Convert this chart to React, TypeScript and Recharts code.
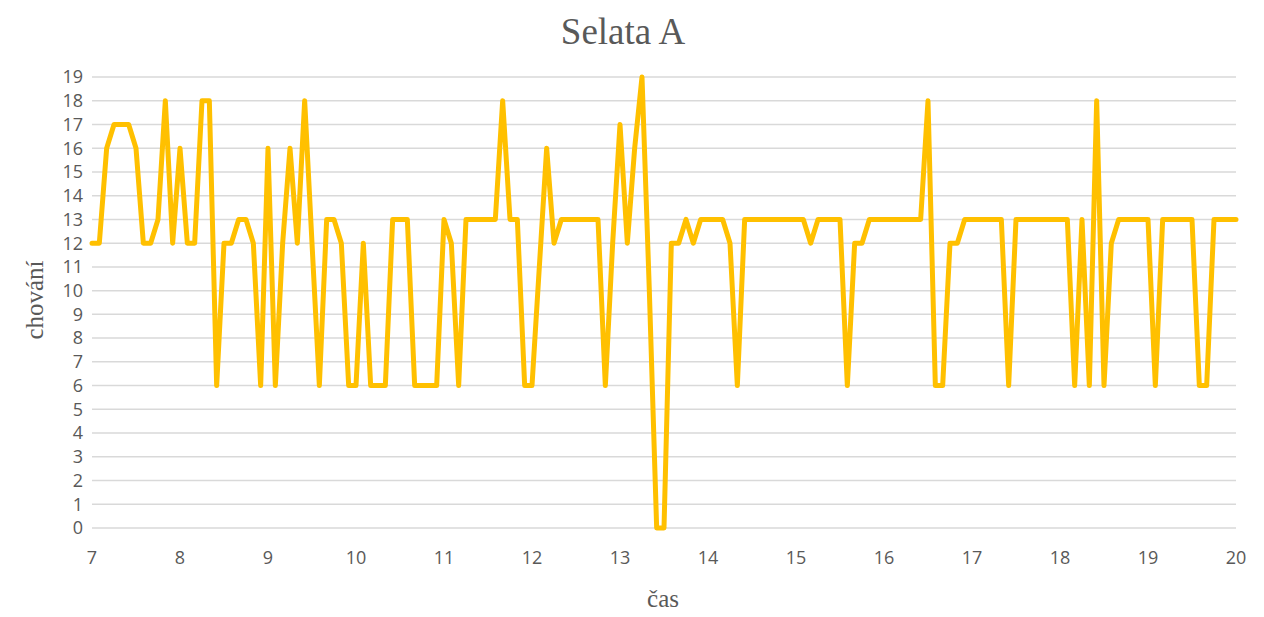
import { LineChart, Line, XAxis, YAxis, CartesianGrid } from "recharts";

// chování, one reading every 5 minutes from 7:00 to 20:00
const chovani = [
  12, 12, 16, 17, 17, 17, 16, 12, 12, 13, 18, 12, 16, 12, 12, 18, 18, 6, 12, 12,
  13, 13, 12, 6, 16, 6, 12, 16, 12, 18, 12, 6, 13, 13, 12, 6, 6, 12, 6, 6,
  6, 13, 13, 13, 6, 6, 6, 6, 13, 12, 6, 13, 13, 13, 13, 13, 18, 13, 13, 6,
  6, 11, 16, 12, 13, 13, 13, 13, 13, 13, 6, 12, 17, 12, 16, 19, 10, 0, 0, 12,
  12, 13, 12, 13, 13, 13, 13, 12, 6, 13, 13, 13, 13, 13, 13, 13, 13, 13, 12, 13,
  13, 13, 13, 6, 12, 12, 13, 13, 13, 13, 13, 13, 13, 13, 18, 6, 6, 12, 12, 13,
  13, 13, 13, 13, 13, 6, 13, 13, 13, 13, 13, 13, 13, 13, 6, 13, 6, 18, 6, 12,
  13, 13, 13, 13, 13, 6, 13, 13, 13, 13, 13, 6, 6, 13, 13, 13, 13,
];

const startHour = 7;
const stepMinutes = 5;

const xTicks = [7, 8, 9, 10, 11, 12, 13, 14, 15, 16, 17, 18, 19, 20];
const yTicks = [0, 1, 2, 3, 4, 5, 6, 7, 8, 9, 10, 11, 12, 13, 14, 15, 16, 17, 18, 19];

const data = chovani.map((v, i) => ({
  cas: startHour + (i * stepMinutes) / 60,
  chovani: v,
}));

const gray = "#595959";
const tickStyle = { fontSize: 18, fill: gray, fontFamily: "'Open Sans', 'Liberation Sans', sans-serif" };
const serif = "'Liberation Serif', 'Times New Roman', serif";

export default function App() {
  return (
    <div style={{ position: "relative", width: 1248, height: 600 }}>
      <div
        style={{
          position: "absolute",
          left: 0,
          top: 2,
          width: 1230,
          textAlign: "center",
          fontFamily: serif,
          fontSize: 37,
          color: gray,
        }}
      >
        Selata A
      </div>
      <div
        style={{
          position: "absolute",
          left: 27,
          top: 292,
          transform: "translate(-50%, -50%) rotate(-90deg)",
          fontFamily: serif,
          fontSize: 25,
          color: gray,
          whiteSpace: "nowrap",
        }}
      >
        chování
      </div>
      <div
        style={{
          position: "absolute",
          left: 655,
          top: 591,
          transform: "translate(-50%, -50%)",
          fontFamily: serif,
          fontSize: 25,
          color: gray,
        }}
      >
        čas
      </div>
      <LineChart
        width={1248}
        height={600}
        data={data}
        margin={{ top: 69, right: 20, bottom: 0, left: 0 }}
      >
        <CartesianGrid vertical={false} stroke="#d9d9d9" strokeWidth={1.5} />
        <XAxis
          dataKey="cas"
          type="number"
          domain={[7, 20]}
          ticks={xTicks}
          interval={0}
          axisLine={false}
          tickLine={false}
          tickSize={0}
          tickMargin={23}
          height={80}
          tick={tickStyle}
        />
        <YAxis
          domain={[0, 19]}
          ticks={yTicks}
          interval={0}
          axisLine={false}
          tickLine={false}
          tickSize={0}
          tickMargin={9}
          width={84}
          tick={tickStyle}
        />
        <Line
          type="linear"
          dataKey="chovani"
          stroke="#FFC000"
          strokeWidth={5}
          strokeLinejoin="round"
          strokeLinecap="round"
          dot={false}
          isAnimationActive={false}
        />
      </LineChart>
    </div>
  );
}
